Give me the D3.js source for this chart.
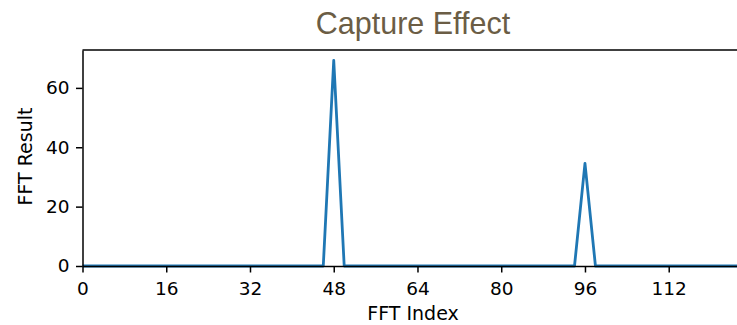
<!DOCTYPE html>
<html><head><meta charset="utf-8">
<script src="https://cdn.jsdelivr.net/npm/d3@7"></script>
<style>body{margin:0;background:#fff;}svg{display:block;}</style>
</head><body>
<svg id="c" width="737" height="325"></svg>
<script>
// Data: FFT bins sampled every 2 indices (0..126)
const fftIndex = [0,2,4,6,8,10,12,14,16,18,20,22,24,26,28,30,32,34,36,38,40,42,44,46,48,50,52,54,56,58,60,62,64,66,68,70,72,74,76,78,80,82,84,86,88,90,92,94,96,98,100,102,104,106,108,110,112,114,116,118,120,122,124,126];
const fftResult = [0,0,0,0,0,0,0,0,0,0,0,0,0,0,0,0,0,0,0,0,0,0,0,0,69.3,0,0,0,0,0,0,0,0,0,0,0,0,0,0,0,0,0,0,0,0,0,0,0,34.6,0,0,0,0,0,0,0,0,0,0,0,0,0,0,0];
const xTicks = [0,16,32,48,64,80,96,112];
const yTicks = [0,20,40,60];
const title = "Capture Effect";
const xLabel = "FFT Index";
const yLabel = "FFT Result";

const svg = d3.select("#c");
const L = 82.5, R = 742, T = 50, B = 266;
const x = d3.scaleLinear().domain([0,126]).range([L,R]);
const y = d3.scaleLinear().domain([0,d3.max(fftResult)*1.05]).range([B,T]);

const font = "DejaVu Sans, sans-serif";
const fs = 18.5;
const lfs = 19;

// line
const data = fftIndex.map((d,i)=>[d,fftResult[i]]);
svg.append("path").datum(data)
  .attr("fill","none").attr("stroke","#1f77b4").attr("stroke-width",2.8)
  .attr("stroke-linejoin","round")
  .attr("d", d3.line().x(d=>x(d[0])).y(d=>y(d[1])));

// top spine
svg.append("line").attr("x1",L).attr("x2",R).attr("y1",T).attr("y2",T).attr("stroke","#000").attr("stroke-width",1.5);

const xa = svg.append("g").attr("transform",`translate(0,${B})`)
  .call(d3.axisBottom(x).tickValues(xTicks).tickFormat(d3.format("d")).tickSize(6.5).tickPadding(6.5).tickSizeOuter(0));
const ya = svg.append("g").attr("transform",`translate(${L},0)`)
  .call(d3.axisLeft(y).tickValues(yTicks).tickFormat(d3.format("d")).tickSize(6.5).tickPadding(6.5).tickSizeOuter(0));
[xa,ya].forEach(g=>{
  g.attr("font-size",null).attr("font-family",null);
  g.selectAll("text").style("font-family",font).style("font-size",fs+"px").attr("fill","#000");
  g.selectAll("line").attr("stroke","#000").attr("stroke-width",1.5);
  g.select(".domain").attr("stroke","#000").attr("stroke-width",1.5);
});
xa.selectAll("text").attr("dy","0.86em");

svg.append("text").attr("x",413).attr("y",319.5).attr("text-anchor","middle")
  .style("font-family",font).style("font-size",lfs+"px").text(xLabel);
svg.append("text").attr("transform",`translate(32,${156.5}) rotate(-90)`).attr("text-anchor","middle")
  .style("font-family",font).style("font-size",lfs+"px").text(yLabel);
svg.append("text").attr("x",413).attr("y",34).attr("text-anchor","middle")
  .style("font-family","Liberation Sans, Arial, sans-serif").style("font-size","30.5px").attr("fill","#6b5d45").text(title);
</script>
</body></html>
